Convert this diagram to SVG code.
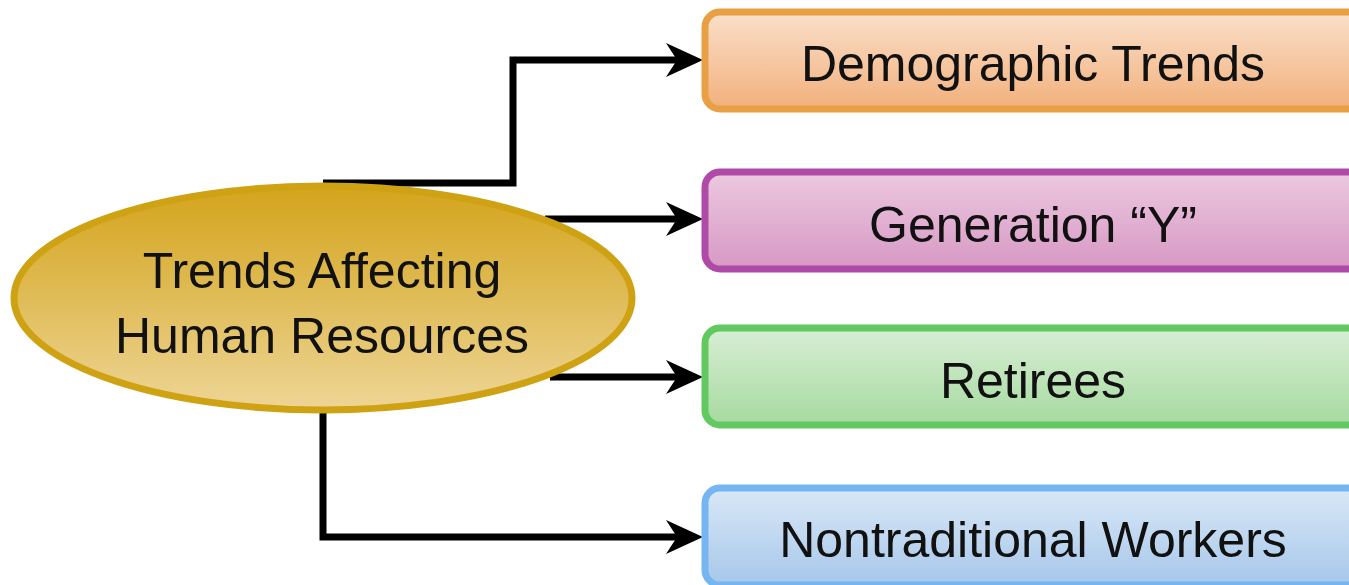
<svg xmlns="http://www.w3.org/2000/svg" width="1349" height="585" viewBox="0 0 1349 585">
  <defs>
    <linearGradient id="gGold" x1="0" y1="0" x2="0" y2="1">
      <stop offset="0" stop-color="#d4a41c"/>
      <stop offset="0.5" stop-color="#e0bc58"/>
      <stop offset="1" stop-color="#eed596"/>
    </linearGradient>
    <linearGradient id="gOrange" x1="0" y1="0" x2="0" y2="1">
      <stop offset="0" stop-color="#fae0ca"/>
      <stop offset="1" stop-color="#f2b07c"/>
    </linearGradient>
    <linearGradient id="gPurple" x1="0" y1="0" x2="0" y2="1">
      <stop offset="0" stop-color="#ecc9e0"/>
      <stop offset="1" stop-color="#d798c4"/>
    </linearGradient>
    <linearGradient id="gGreen" x1="0" y1="0" x2="0" y2="1">
      <stop offset="0" stop-color="#d8eed5"/>
      <stop offset="1" stop-color="#a6da9f"/>
    </linearGradient>
    <linearGradient id="gBlue" x1="0" y1="0" x2="0" y2="1">
      <stop offset="0" stop-color="#d9e8f7"/>
      <stop offset="1" stop-color="#a7c7ea"/>
    </linearGradient>
    <!-- chevron head; the reference point is the inner notch so the shaft stops there -->
    <marker id="arrow" markerUnits="userSpaceOnUse" markerWidth="40" markerHeight="40" refX="11" refY="18" orient="auto" viewBox="0 0 40 36">
      <path d="M0,1 L37,18 L0,35 L11,18 Z" fill="#000"/>
    </marker>
  </defs>
  <style>
    .lbl { font-family: "Liberation Sans", Arial, sans-serif; font-size: 50px; fill: #111; text-anchor: middle; }
    .box { stroke-width: 7; }
    .conn { fill: none; stroke: #000; stroke-width: 7; stroke-linejoin: miter; marker-end: url(#arrow); }
  </style>

  <rect width="1349" height="585" fill="#fff"/>

  <g id="connectors">
    <path class="conn" d="M323,183 H513 V60 H677"/>
    <path class="conn" d="M545,219 H677"/>
    <path class="conn" d="M550,377 H677"/>
    <path class="conn" d="M323,410 V537 H677"/>
  </g>

  <g id="hub">
    <ellipse cx="323" cy="298" rx="309" ry="112" fill="url(#gGold)" stroke="#cfa214" stroke-width="7"/>
    <text class="lbl" x="322" y="288">Trends Affecting</text>
    <text class="lbl" x="322" y="353">Human Resources</text>
  </g>

  <g id="demographic">
    <rect class="box" x="705" y="12" width="660" height="97" rx="15" fill="url(#gOrange)" stroke="#e9a045"/>
    <text class="lbl" x="1033" y="81">Demographic Trends</text>
  </g>

  <g id="genY">
    <rect class="box" x="705" y="172" width="660" height="97" rx="15" fill="url(#gPurple)" stroke="#b04aa8"/>
    <text class="lbl" x="1033" y="242">Generation “Y”</text>
  </g>

  <g id="retirees">
    <rect class="box" x="705" y="328" width="660" height="97" rx="15" fill="url(#gGreen)" stroke="#62c960"/>
    <text class="lbl" x="1033" y="398">Retirees</text>
  </g>

  <g id="nontraditional">
    <rect class="box" x="705" y="488" width="660" height="97" rx="15" fill="url(#gBlue)" stroke="#75b6f2"/>
    <text class="lbl" x="1033" y="557">Nontraditional Workers</text>
  </g>
</svg>
